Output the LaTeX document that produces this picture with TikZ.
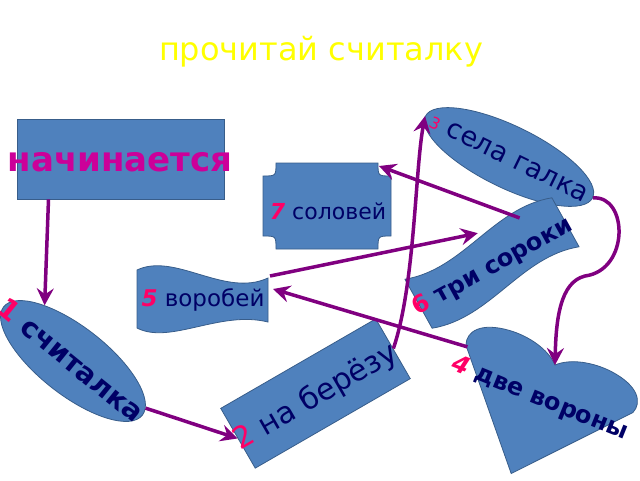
\documentclass[tikz,border=0pt]{standalone}
\usepackage{fontspec}
\setmainfont{DejaVu Sans}
\usetikzlibrary{arrows.meta}
\usetikzlibrary{shapes.geometric}
\definecolor{shapeblue}{HTML}{4F81BD}
\definecolor{shapeline}{HTML}{385D8A}
\definecolor{textnavy}{HTML}{000066}
\definecolor{numpink}{HTML}{FF0066}
\definecolor{wordmagenta}{HTML}{CC0099}
\definecolor{linkpurple}{HTML}{800080}
\definecolor{titleyellow}{HTML}{FFFF00}
\newcommand{\sizedfont}[1]{\fontsize{#1}{#1}\selectfont}
\newcommand{\numtag}[1]{{\color{numpink}#1}}

\begin{document}
\begin{tikzpicture}[x=1pt,y=-1pt,
    blockshape/.style={fill=shapeblue, draw=shapeline, line width=0.8pt},
    word/.style={text=textnavy, inner sep=0pt},
    link/.style={draw=linkpurple, line width=3.5pt, -{Stealth[length=17pt,width=17pt,inset=6pt]}}]
        \useasboundingbox (0,0) rectangle (640,480);

        \node[text=titleyellow, font=\sizedfont{32}] (title) at (321,52) {прочитай считалку};

        % shapes
        \node[blockshape, minimum width=207pt, minimum height=80pt] (nach) at (120.5,159) {};
        \node[blockshape, ellipse, rotate=-38, minimum width=176pt, minimum height=68pt] (schitalka) at (73,361) {};
        \node[blockshape, rotate=30, minimum width=179pt, minimum height=69pt] (bereza) at (315.5,393.5) {};

        \draw[blockshape] (276,163) -- (378,163) .. controls (378,176) .. (391,176) -- (391,236)
            .. controls (378,236) .. (378,249) -- (276,249) .. controls (276,236) .. (263,236)
            -- (263,176) .. controls (276,176) .. (276,163) -- cycle;
        \coordinate (solovey-ne) at (379,166);

        \draw[blockshape] (137,270) .. controls (175,252) and (225,298) .. (268,278) -- (268,322)
            .. controls (220,310) and (170,345) .. (137,328) -- cycle;
        \coordinate (vorobey-ne) at (270,276);
        \coordinate (vorobey-e) at (273,289);

        \node[blockshape, ellipse, rotate=-26, minimum width=186pt, minimum height=62pt] (sela) at (509,157) {};

        \begin{scope}[shift={(492,263)}, rotate=29]
            \draw[blockshape] (-84,-28) .. controls (-28,-8) and (28,-48) .. (84,-28) -- (84,28)
                .. controls (28,8) and (-28,48) .. (-84,28) -- cycle;
            \coordinate (soroki-top) at (46,-26);
            \coordinate (soroki-nw) at (2,-33);
        \end{scope}

        \begin{scope}[shift={(555,365)}, rotate=-22]
            \draw[blockshape] (0,0) .. controls (12,-12) and (35,-17) .. (55,-15)
                .. controls (85,-12) and (95,2) .. (90,15) -- (0,117) -- (-90,15)
                .. controls (-95,2) and (-85,-12) .. (-55,-15) .. controls (-35,-17) and (-12,-12) .. (0,0) -- cycle;
            \coordinate (vorony-top) at (0,0);
            \coordinate (vorony-w) at (-88,16);
        \end{scope}

        % texts
        \node[text=wordmagenta, font=\bfseries\sizedfont{34}, inner sep=0pt] (nachtext) at (120,162) {начинается};
        \node[word, rotate=-39, font=\bfseries\sizedfont{28}] (schitalkatext) at (71,360) {\numtag{1} считалка};
        \node[word, rotate=30, font=\sizedfont{30}] (berezatext) at (316,397) {\numtag{2} на берёзу};
        \node[word, rotate=-26, font=\sizedfont{27}] (selatext) at (509,158) {\numtag{\sizedfont{16}3} села галка};
        \node[word, rotate=-22, font=\bfseries\sizedfont{24}] (vorony) at (540,399) {\numtag{\itshape 4} две вороны};
        \node[word, font=\sizedfont{23}] (vorobey) at (203,300) {\numtag{\bfseries\itshape 5} воробей};
        \node[word, rotate=29, font=\bfseries\sizedfont{24}] (soroki) at (493,267) {\numtag{6} три сороки};
        \node[word, font=\sizedfont{22}] (solovey) at (328,211) {\numtag{\bfseries\itshape 7} соловей};

        % links
        \draw[link] ([xshift=-72pt]nach.south) -- (schitalka.155);
        \draw[link] (schitalka.5) -- (bereza.west);
        \draw[link] (bereza.east) .. controls (415,285) and (415,170) .. (sela.west);
        \draw[link] (sela.east) .. controls (628,195) and (630,270) .. (585,276)
            .. controls (560,282) and (556,320) .. (vorony-top);
        \draw[link] (vorony-w) -- (vorobey-e);
        \draw[link] (vorobey-ne) -- (soroki-nw);
        \draw[link] (soroki-top) -- (solovey-ne);
\end{tikzpicture}
\end{document}
